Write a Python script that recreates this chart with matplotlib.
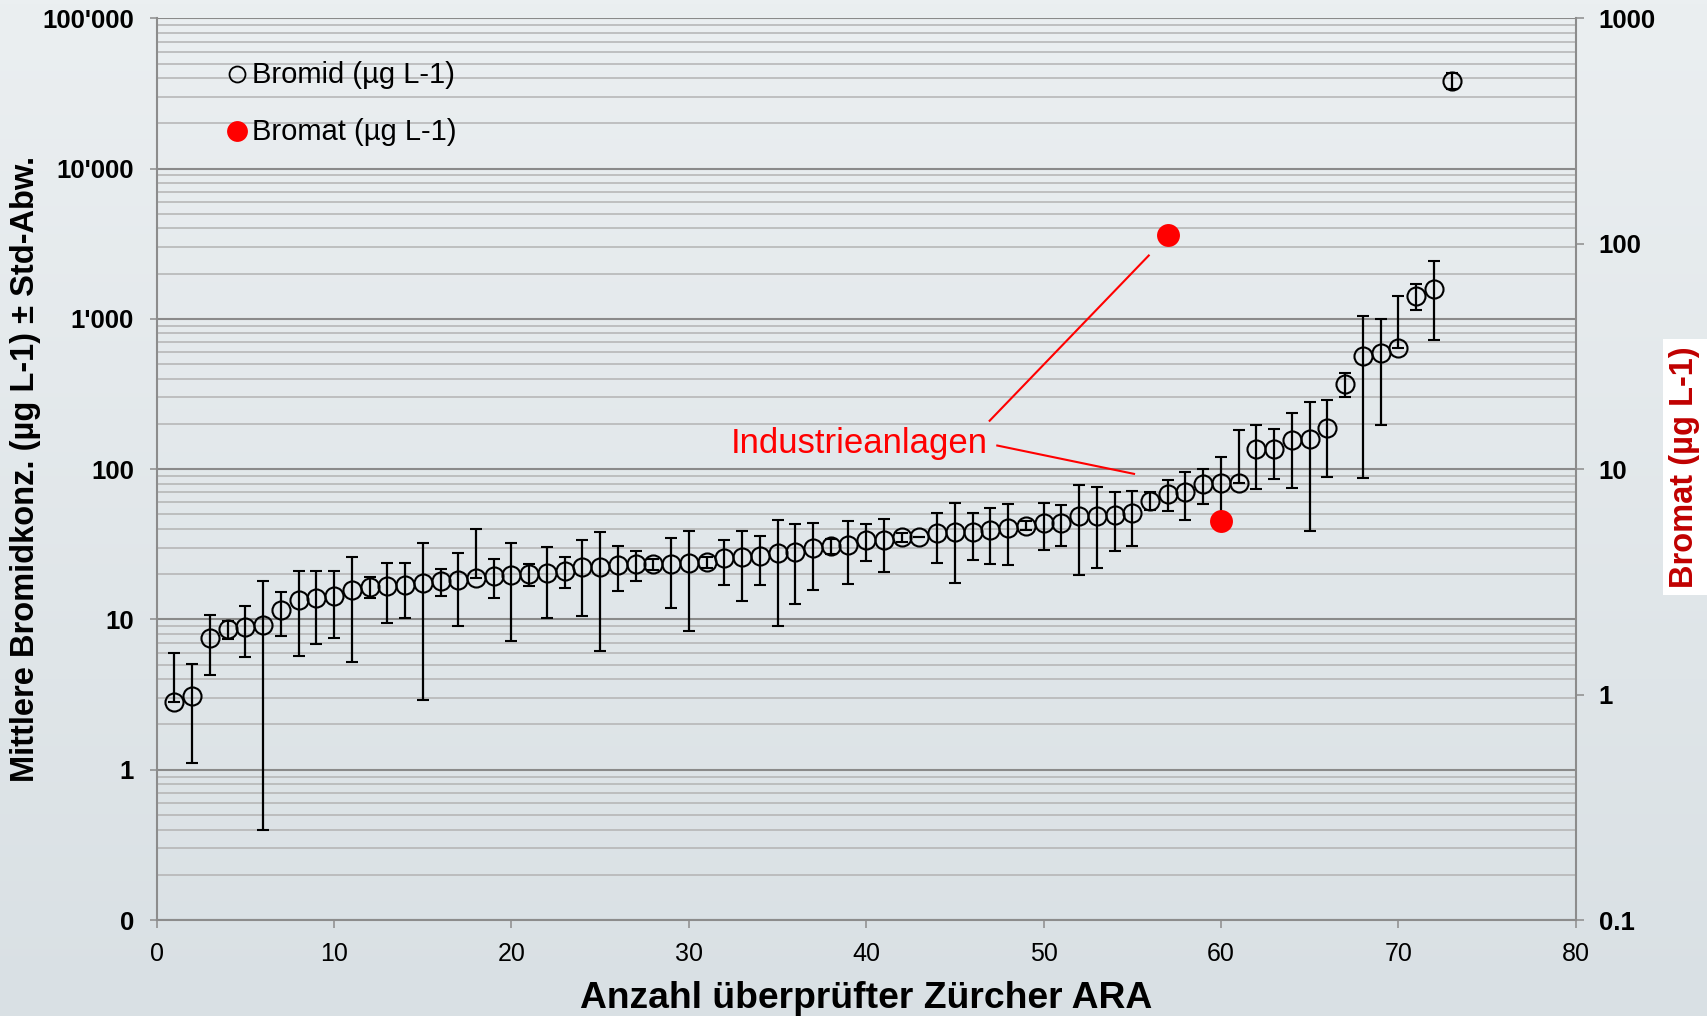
import numpy as np
import matplotlib
matplotlib.use("Agg")
import matplotlib.pyplot as plt
from matplotlib.ticker import FixedLocator, FixedFormatter, LogLocator, NullFormatter, NullLocator
from matplotlib.lines import Line2D

plt.rcParams['font.family'] = ['Liberation Sans', 'DejaVu Sans']

# ---------------- data ----------------
ara_index = list(range(1, 74))
bromid_mean = [2.83, 3.08, 7.47, 8.58, 8.93, 9.25, 11.5, 13.4, 13.9, 14.3,
               15.7, 16.5, 16.7, 17.0, 17.6, 18.0, 18.3, 18.8, 19.5, 19.7,
               20.1, 20.3, 21.1, 22.2, 22.2, 23.1, 23.4, 23.4, 23.4, 23.7,
               24.1, 25.5, 25.9, 26.5, 27.5, 27.9, 29.7, 30.8, 31.3, 33.8,
               33.8, 35.2, 35.2, 37.4, 38.4, 38.0, 39.4, 40.8, 42.1, 44.1,
               44.1, 48.9, 48.9, 49.7, 51.4, 61.8, 68.4, 70.9, 79.6, 80.5,
               80.5, 136, 136, 156, 159, 189, 369, 567, 597, 644,
               1429, 1575, 38550]
bromid_sd = [3.17, 1.98, 3.2, 1.15, 3.3, 8.85, 3.7, 7.7, 7.0, 6.8,
             10.5, 2.6, 7.2, 6.7, 14.7, 3.6, 9.3, 21.0, 5.6, 12.5,
             3.3, 10.0, 5.0, 11.7, 16.0, 7.6, 5.3, 2.0, 11.5, 15.3,
             2.0, 8.5, 12.6, 9.5, 18.5, 15.3, 14.0, 3.5, 14.0, 9.5,
             13.0, 2.5, 0.0, 13.8, 21.0, 13.0, 16.0, 17.8, 3.0, 15.0,
             13.5, 29.0, 27.0, 21.0, 20.5, 8.5, 16.0, 25.0, 21.0, 40.0,
             101, 62, 50, 81, 120, 100, 67, 480, 400, 785,
             280, 850, 4800]

bromat_index = [57, 60]
bromat_value = [109, 5.9]

x_ticks = [0, 10, 20, 30, 40, 50, 60, 70, 80]
left_ticks = [0.1, 1, 10, 100, 1000, 10000, 100000]
left_tick_labels = ["0", "1", "10", "100", "1'000", "10'000", "100'000"]
right_ticks = [0.1, 1, 10, 100, 1000]
right_tick_labels = ["0.1", "1", "10", "100", "1000"]

legend_labels = ["Bromid (\u00b5g L-1)", "Bromat (\u00b5g L-1)"]
x_label = "Anzahl \u00fcberpr\u00fcfter Z\u00fcrcher ARA"
y_label = "Mittlere Bromidkonz. (\u00b5g L-1) \u00b1 Std-Abw."
y2_label = "Bromat (\u00b5g L-1)"
annot_text = "Industrieanlagen"

# ---------------- figure ----------------
W, H = 1707, 1016
fig = plt.figure(figsize=(W / 100, H / 100), dpi=100)

# background gradient
bg = fig.add_axes([0, 0, 1, 1], zorder=-10)
top_c = np.array([235, 239, 241]) / 255
bot_c = np.array([217, 224, 228]) / 255
t = np.linspace(0, 1, 256)[:, None, None]
img = top_c[None, None, :] + (bot_c - top_c)[None, None, :] * t
bg.imshow(img, aspect='auto', extent=[0, 1, 0, 1], origin='upper')
bg.set_axis_off()

L, R, T, B = 156.7, 1575.7, 18.3, 920.0
ax = fig.add_axes([L / W, 1 - B / H, (R - L) / W, (B - T) / H])
ax.set_facecolor('none')
ax.set_xlim(0, 80)
ax.set_yscale('log')
ax.set_ylim(0.1, 1e5)

gray = '#8c8c8c'
ax.yaxis.set_major_locator(FixedLocator(left_ticks))
ax.yaxis.set_major_formatter(FixedFormatter(left_tick_labels))
ax.yaxis.set_minor_locator(LogLocator(base=10, subs=range(2, 10), numticks=20))
ax.yaxis.set_minor_formatter(NullFormatter())
ax.grid(which='major', axis='y', color='#8a8a8a', lw=1.5, zorder=0)
ax.grid(which='minor', axis='y', color='#b3b3b3', lw=1.1, zorder=0)
ax.set_axisbelow(True)
ax.xaxis.set_major_locator(FixedLocator(x_ticks))
ax.tick_params(axis='y', which='major', direction='out', length=5.4, width=1.1,
               color=gray, pad=11, labelsize=18.5)
ax.tick_params(axis='y', which='minor', length=0)
ax.tick_params(axis='x', which='major', direction='out', length=5.5, width=1.1,
               color=gray, pad=10, labelsize=18)
for lab in ax.get_yticklabels():
    lab.set_fontweight('bold')
for s in ['top', 'right']:
    ax.spines[s].set_visible(False)
for s in ['left', 'bottom']:
    ax.spines[s].set_color(gray)
    ax.spines[s].set_linewidth(1.5)

lower_err = [sd if m - sd > 0 else 0.0 for m, sd in zip(bromid_mean, bromid_sd)]
ax.errorbar(ara_index, bromid_mean, yerr=[lower_err, bromid_sd], fmt='o',
            mfc='none', mec='black', ms=13, mew=1.5, ecolor='black',
            elinewidth=1.6, capsize=4.5, capthick=1.6, zorder=3)

# annotation
ax.text(32.38, 128, annot_text, color='#ff0000', fontsize=25, ha='left', va='baseline')
ax.plot([46.96, 55.93], [210, 2640], color='#ff0000', lw=1.5)
ax.plot([47.39, 55.10], [143.6, 93], color='#ff0000', lw=1.5)

# twin axis for Bromat
ax2 = ax.twinx()
ax2.set_yscale('log')
ax2.set_ylim(0.1, 1000)
ax2.yaxis.set_major_locator(FixedLocator(right_ticks))
ax2.yaxis.set_major_formatter(FixedFormatter(right_tick_labels))
ax2.yaxis.set_minor_locator(NullLocator())
ax2.tick_params(axis='y', which='major', direction='out', length=5.5, width=1.1,
                color=gray, pad=11, labelsize=18.5)
for lab in ax2.get_yticklabels():
    lab.set_fontweight('bold')
for s in ['top', 'left', 'bottom']:
    ax2.spines[s].set_visible(False)
ax2.spines['right'].set_color(gray)
ax2.spines['right'].set_linewidth(1.5)
ax2.plot(bromat_index, bromat_value, 'o', color='#ff0000', ms=16.5, mec='none', zorder=4)

# legend (manual, axes coords)
ax2.add_line(Line2D([0.0566], [0.9382], transform=ax2.transAxes, marker='o',
                    mfc='none', mec='black', ms=11.5, mew=1.3, ls='none'))
ax2.add_line(Line2D([0.0566], [0.8750], transform=ax2.transAxes, marker='o',
                    mfc='#ff0000', mec='none', ms=15, ls='none'))
ax2.text(0.0672, 0.9279, legend_labels[0], transform=ax2.transAxes, fontsize=21,
         ha='left', va='baseline', color='black')
ax2.text(0.0672, 0.8650, legend_labels[1], transform=ax2.transAxes, fontsize=21,
         ha='left', va='baseline', color='black')

# axis labels
fig.text(866.2 / W, 8 / H, x_label, fontsize=26.8, fontweight='bold',
         ha='center', va='baseline')
fig.text(26 / W, 1 - 469 / H, y_label, fontsize=23.5, fontweight='bold',
         rotation=90, ha='center', va='center')
fig.text(1685 / W, 1 - 467 / H, y2_label, fontsize=23.5, fontweight='bold',
         color='#c00000', rotation=90, ha='center', va='center',
         bbox=dict(facecolor='white', edgecolor='none', pad=5))

fig.savefig('out.png', dpi=100)
